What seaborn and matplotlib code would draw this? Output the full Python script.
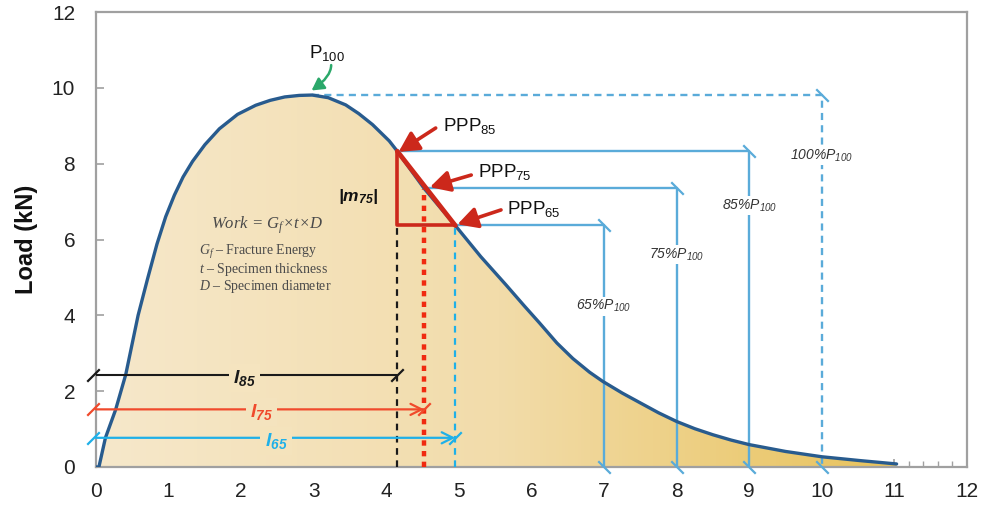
import numpy as np
import matplotlib
matplotlib.use("Agg")
import matplotlib.pyplot as plt
import seaborn as sns
from matplotlib.path import Path
from matplotlib.patches import Polygon
from matplotlib.colors import LinearSegmentedColormap
from matplotlib.ticker import MultipleLocator

# ---------------- data ----------------
disp = [0.0, 0.04, 0.13, 0.27, 0.41, 0.58, 0.71, 0.84, 0.96, 1.08, 1.20, 1.33, 1.50,
        1.70, 1.95, 2.20, 2.40, 2.60, 2.80, 2.98, 3.20, 3.44, 3.62, 3.81, 4.04, 4.15,
        4.52, 4.95, 5.30, 5.65, 5.90, 6.11, 6.35, 6.57, 6.80, 6.98, 7.25, 7.49, 7.75,
        8.00, 8.25, 8.50, 8.75, 9.00, 9.50, 10.00, 10.52, 11.03]
load = [0.0, 0.0, 0.77, 1.51, 2.44, 4.00, 4.96, 5.88, 6.60, 7.17, 7.65, 8.06, 8.50,
        8.92, 9.30, 9.54, 9.67, 9.76, 9.80, 9.81, 9.74, 9.55, 9.32, 9.03, 8.60, 8.33,
        7.35, 6.37, 5.55, 4.80, 4.25, 3.80, 3.27, 2.86, 2.50, 2.26, 1.95, 1.70, 1.43,
        1.20, 1.01, 0.85, 0.71, 0.59, 0.41, 0.27, 0.17, 0.08]

pct_levels = [100, 85, 75, 65]
pct_load = [9.81, 8.33, 7.35, 6.37]
ppp_x = [2.98, 4.15, 4.52, 4.95]
pct_end_x = [10, 9, 8, 7]
pct_labels = ["100%P$_{100}$", "85%P$_{100}$", "75%P$_{100}$", "65%P$_{100}$"]
pct_label_y = [8.22, 6.90, 5.60, 4.24]

ppp_labels = ["PPP$_{85}$", "PPP$_{75}$", "PPP$_{65}$"]
ppp_text_xy = [(4.78, 8.87), (5.26, 7.66), (5.66, 6.68)]
ppp_arrow_tail = [(4.68, 8.94), (5.17, 7.70), (5.58, 6.78)]
ppp_arrow_tip = [(4.17, 8.31), (4.60, 7.38), (4.98, 6.40)]

l_labels = ["l$_{85}$", "l$_{75}$", "l$_{65}$"]
l_y = [2.43, 1.52, 0.77]
l_end = [4.15, 4.52, 4.95]
l_label_x = [2.05, 2.28, 2.48]
l_colors = ["#1a1a1a", "#f04a2c", "#1fb0e8"]
vline_top = [6.37, 7.32, 6.37]

# ---------------- style ----------------
sns.set_theme(style="white")
plt.rcParams["font.family"] = ["Liberation Sans", "DejaVu Sans"]
plt.rcParams["mathtext.fontset"] = "custom"
plt.rcParams["mathtext.rm"] = "Liberation Serif"
plt.rcParams["mathtext.it"] = "Liberation Serif:italic"
plt.rcParams["mathtext.default"] = "regular"

fig = plt.figure(figsize=(9.82, 5.05), dpi=100)
ax = fig.add_axes([96 / 982, 1 - 467 / 505, 871 / 982, 455 / 505])

blue = "#5aabd9"
red = "#cc281b"
gray = "#a0a0a0"

# gradient fill under the curve
cmap = LinearSegmentedColormap.from_list("fill", ["#f6e8cb", "#f2dcaa", "#e8c25a"])
grad = np.linspace(0, 1, 256).reshape(1, -1)
im = ax.imshow(grad, extent=[0, 11.1, 0, 10], aspect="auto", cmap=cmap,
               origin="lower", zorder=1)
poly = Polygon(np.column_stack([disp + [disp[-1]], load + [0.0]]), closed=True,
               transform=ax.transData, facecolor="none", edgecolor="none")
ax.add_patch(poly)
im.set_clip_path(poly)

# curve
sns.lineplot(x=disp, y=load, color="#285b8e", lw=2.4, ax=ax, sort=False,
             estimator=None, zorder=6)

back = Path([(-1, 1), (1, -1)], [Path.MOVETO, Path.LINETO])
fwd = Path([(-1, -1), (1, 1)], [Path.MOVETO, Path.LINETO])

# percentage level lines
for i in range(4):
    ls = (0, (3, 2.2)) if i == 0 else "-"
    ax.plot([ppp_x[i], pct_end_x[i], pct_end_x[i]], [pct_load[i], pct_load[i], 0],
            color=blue, lw=1.7, ls=ls, zorder=4)
    ax.plot([pct_end_x[i], pct_end_x[i]], [pct_load[i], 0], ls="none", marker=back,
            ms=9, mec=blue, mew=1.6, clip_on=False, zorder=4)
    ax.text(pct_end_x[i], pct_label_y[i], pct_labels[i], style="italic", fontsize=10,
            color="#333333", ha="center", va="center", zorder=5,
            bbox=dict(facecolor="white", edgecolor="none", pad=1.0))

# vertical dashed drops
ax.plot([l_end[0], l_end[0]], [0, vline_top[0]], color="#1a1a1a", lw=1.6,
        ls=(0, (3, 2.5)), zorder=7)
ax.plot([l_end[1], l_end[1]], [0, vline_top[1]], color="#f02a10", lw=3.2,
        ls=(0, (1.2, 1.2)), zorder=7)
ax.plot([l_end[2], l_end[2]], [0, vline_top[2]], color="#1fb0e8", lw=1.6,
        ls=(0, (3, 2.5)), zorder=7)

# red triangle
ax.plot([ppp_x[1], ppp_x[1], ppp_x[3]], [pct_load[1], pct_load[3], pct_load[3]],
        color=red, lw=2.6, zorder=8, solid_capstyle="butt")
ax.plot([ppp_x[1], ppp_x[3]], [pct_load[1], pct_load[3]], color=red, lw=3.4,
        zorder=8)

# red arrows and PPP labels
for lab, txy, tail, tip in zip(ppp_labels, ppp_text_xy, ppp_arrow_tail, ppp_arrow_tip):
    ax.annotate("", xy=tip, xytext=tail, zorder=9,
                arrowprops=dict(arrowstyle="-|>,head_length=0.6,head_width=0.32",
                                color=red, lw=2.6, mutation_scale=20,
                                shrinkA=0, shrinkB=0))
    ax.text(txy[0], txy[1], lab, fontsize=13.5, color="#111111", ha="left",
            va="baseline", zorder=9)

# P100 label and green arrow
ax.text(2.93, 10.78, "P$_{100}$", fontsize=13.5, color="#111111", ha="left",
        va="baseline")
ax.annotate("", xy=(2.97, 9.93), xytext=(3.24, 10.6),
            arrowprops=dict(arrowstyle="-|>,head_length=0.45,head_width=0.25",
                            color="#2ba86a", lw=1.8, mutation_scale=16,
                            connectionstyle="angle3,angleA=-90,angleB=35",
                            shrinkA=0, shrinkB=0))

# |m75|
ax.text(3.61, 7.13, "|m$_{75}$|", fontsize=12.5, fontweight="bold", style="italic",
        color="#111111", ha="center", va="center", zorder=9)

# Work formula
serif = ["Liberation Serif", "DejaVu Serif"]
ax.text(2.35, 6.39, "Work = G$_{f}$×t×D", family=serif, style="italic", fontsize=12,
        color="#4a4a4a", ha="center", va="center", zorder=9)
for yy, s in zip([5.66, 5.20, 4.76],
                 [r"$\mathit{G_{f}}$ – Fracture Energy",
                  r"$\mathit{t}$ – Specimen thickness",
                  r"$\mathit{D}$ – Specimen diameter"]):
    ax.text(1.42, yy, s, family=serif, fontsize=10, color="#4a4a4a", ha="left",
            va="center", zorder=9)

# length lines l85 / l75 / l65
for i in range(3):
    c = l_colors[i]
    if i == 0:
        ax.plot([0, l_end[i]], [l_y[i], l_y[i]], color=c, lw=1.5, zorder=8)
    else:
        ax.annotate("", xy=(l_end[i], l_y[i]), xytext=(0, l_y[i]), zorder=8,
                    arrowprops=dict(arrowstyle="->,head_length=0.5,head_width=0.25",
                                    color=c, lw=1.6, mutation_scale=16,
                                    shrinkA=0, shrinkB=0))
    ax.plot([-0.04, l_end[i]], [l_y[i], l_y[i]], ls="none", marker=fwd, ms=9,
            mec=c, mew=1.6, clip_on=False, zorder=8)
    bg = cmap(l_label_x[i] / 11.1)
    ax.text(l_label_x[i], l_y[i] - 0.08, l_labels[i], fontsize=14, fontweight="bold",
            style="italic", color=c, ha="center", va="center", zorder=9,
            bbox=dict(facecolor=bg, edgecolor="none", pad=3.0))

# axes
ax.set_xlim(0, 12)
ax.set_ylim(0, 12)
ax.set_xticks(range(0, 13))
ax.set_yticks(range(0, 13, 2))
ax.xaxis.set_minor_locator(MultipleLocator(0.2))
ax.tick_params(axis="x", which="major", direction="in", length=6, width=1.2,
               color=gray, labelsize=15, labelcolor="#222222", pad=11,
               bottom=True)
ax.tick_params(axis="x", which="minor", direction="in", length=4, width=1.0,
               color=gray, bottom=True)
ax.tick_params(axis="y", which="major", direction="in", length=6, width=1.2,
               color=gray, labelsize=15, labelcolor="#222222", pad=15, left=True)
for sp in ax.spines.values():
    sp.set_color(gray)
    sp.set_linewidth(1.6)
    sp.set_visible(True)
ax.set_ylabel("Load (kN)", fontsize=17, fontweight="bold", color="#111111",
              labelpad=10)
ax.set_xlabel("")

fig.savefig("out.png", dpi=100)
